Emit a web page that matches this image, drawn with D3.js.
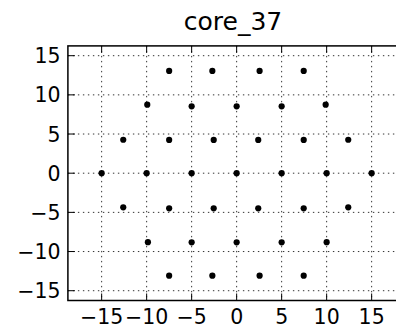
<!DOCTYPE html>
<html>
<head>
<meta charset="utf-8">
<script src="https://cdn.jsdelivr.net/npm/d3@7"></script>
<style>
    body {
        margin: 0;
        background: #fff;
    }
    svg {
        display: block;
        font-family: "DejaVu Sans", sans-serif;
    }
    .grid line {
        stroke: #000;
        stroke-width: 1;
        stroke-dasharray: 1.4, 3.6;
        stroke-opacity: 0.8;
    }
    .tick-label {
        font-size: 20.5px;
        fill: #000;
    }
</style>
</head>
<body>
<svg id="chart" width="396" height="332"></svg>
<script>
    const title = "core_37";

    // point positions, row by row from top to bottom
    const xValues = [
        -7.5, -2.7, 2.55, 7.45,
        -9.93, -5, 0, 5, 9.89,
        -12.6, -7.5, -2.55, 2.4, 7.45, 12.4,
        -15, -10, -5, 0, 5, 10, 15,
        -12.6, -7.5, -2.55, 2.4, 7.45, 12.4,
        -9.86, -5, 0, 5, 10,
        -7.5, -2.7, 2.55, 7.45,
    ];
    const yValues = [
        13.05, 13.05, 13.05, 13.05,
        8.75, 8.54, 8.54, 8.54, 8.75,
        4.27, 4.25, 4.25, 4.25, 4.25, 4.27,
        0, 0, 0, 0, 0, 0, 0,
        -4.36, -4.49, -4.49, -4.49, -4.49, -4.36,
        -8.8, -8.82, -8.82, -8.82, -8.8,
        -13.08, -13.08, -13.08, -13.08,
    ];
    const xTicks = [-15, -10, -5, 0, 5, 10, 15];
    const yTicks = [-15, -10, -5, 0, 5, 10, 15];
    const xLimits = [-18.75, 18.75];
    const yLimits = [-16.25, 16.25];

    const svg = d3.select("#chart");
    const plotLeft = 67.9, plotRight = 405.4, plotTop = 45.9, plotBottom = 300.5;

    const x = d3.scaleLinear().domain(xLimits).range([plotLeft, plotRight]);
    const y = d3.scaleLinear().domain(yLimits).range([plotBottom, plotTop]);

    const fmt = (d) => (d < 0 ? "\u2212" + Math.abs(d) : String(d));

    // dotted grid
    const grid = svg.append("g").attr("class", "grid");
    grid.selectAll(".vx")
        .data(xTicks)
        .enter()
        .append("line")
        .attr("x1", (d) => x(d))
        .attr("x2", (d) => x(d))
        .attr("y1", plotTop)
        .attr("y2", plotBottom);
    grid.selectAll(".hy")
        .data(yTicks)
        .enter()
        .append("line")
        .attr("x1", plotLeft)
        .attr("x2", plotRight)
        .attr("y1", (d) => y(d))
        .attr("y2", (d) => y(d));

    // points
    const points = xValues.map((v, i) => ({ x: v, y: yValues[i] }));
    svg.append("g")
        .selectAll("circle")
        .data(points)
        .enter()
        .append("circle")
        .attr("cx", (d) => x(d.x))
        .attr("cy", (d) => y(d.y))
        .attr("r", 3.1)
        .attr("fill", "#000");

    // ticks pointing inward, on all four sides
    const tickLen = 7;
    const ticks = svg.append("g")
        .attr("stroke", "#000")
        .attr("stroke-width", 1);
    xTicks.forEach((d) => {
        ticks.append("line")
            .attr("x1", x(d)).attr("x2", x(d))
            .attr("y1", plotBottom).attr("y2", plotBottom - tickLen);
        ticks.append("line")
            .attr("x1", x(d)).attr("x2", x(d))
            .attr("y1", plotTop).attr("y2", plotTop + tickLen);
    });
    yTicks.forEach((d) => {
        ticks.append("line")
            .attr("x1", plotLeft).attr("x2", plotLeft + tickLen)
            .attr("y1", y(d)).attr("y2", y(d));
        ticks.append("line")
            .attr("x1", plotRight).attr("x2", plotRight - tickLen)
            .attr("y1", y(d)).attr("y2", y(d));
    });

    // frame
    svg.append("rect")
        .attr("x", plotLeft)
        .attr("y", plotTop)
        .attr("width", plotRight - plotLeft)
        .attr("height", plotBottom - plotTop)
        .attr("fill", "none")
        .attr("stroke", "#000")
        .attr("stroke-width", 1.5);

    // tick labels
    svg.append("g")
        .selectAll("text")
        .data(xTicks)
        .enter()
        .append("text")
        .attr("class", "tick-label")
        .attr("x", (d) => x(d))
        .attr("y", 324)
        .attr("text-anchor", "middle")
        .text(fmt);
    svg.append("g")
        .selectAll("text")
        .data(yTicks)
        .enter()
        .append("text")
        .attr("class", "tick-label")
        .attr("x", 60.5)
        .attr("y", (d) => y(d) + 7.5)
        .attr("text-anchor", "end")
        .text(fmt);

    svg.append("text")
        .attr("x", 233)
        .attr("y", 29.5)
        .attr("text-anchor", "middle")
        .attr("font-size", 25)
        .attr("fill", "#000")
        .text(title);
</script>
</body>
</html>
